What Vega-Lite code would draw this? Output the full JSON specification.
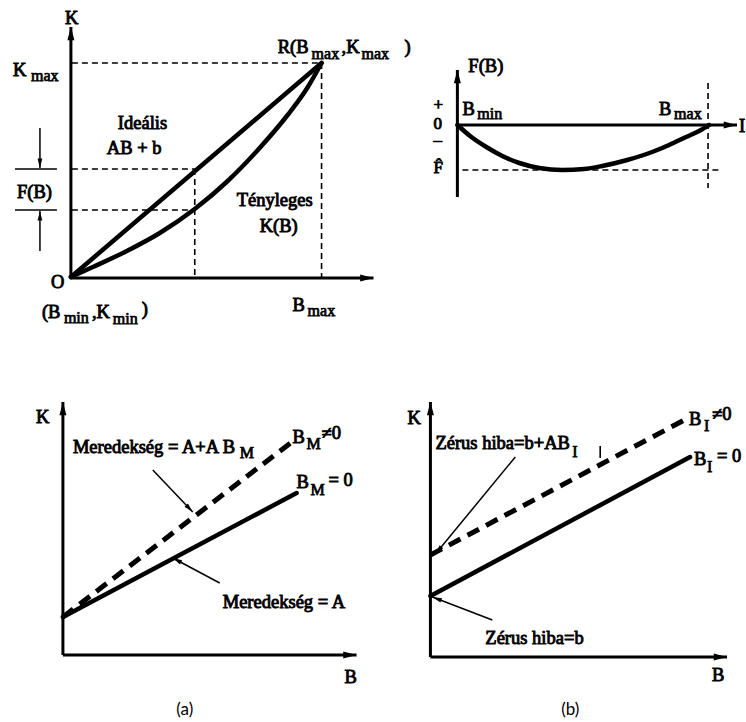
{
  "$schema": "https://vega.github.io/schema/vega-lite/v6.json",
  "width": 746,
  "height": 722,
  "autosize": {"type": "fit", "contains": "padding"},
  "padding": 0,
  "background": "white",
  "config": {"view": {"stroke": null}},
  "datasets": {
    "axes": [
      {"x1": 71, "y1": 278, "x2": 71, "y2": 27},
      {"x1": 71, "y1": 278, "x2": 374, "y2": 278},
      {"x1": 458, "y1": 197, "x2": 458, "y2": 70},
      {"x1": 458, "y1": 125, "x2": 738, "y2": 125},
      {"x1": 63, "y1": 655, "x2": 63, "y2": 402},
      {"x1": 63, "y1": 655, "x2": 357, "y2": 655},
      {"x1": 431, "y1": 657, "x2": 431, "y2": 402},
      {"x1": 431, "y1": 657, "x2": 728, "y2": 657}
    ],
    "pointers": [
      {"x1": 40, "y1": 128, "x2": 40, "y2": 168},
      {"x1": 40, "y1": 251, "x2": 40, "y2": 211},
      {"x1": 153, "y1": 470, "x2": 193, "y2": 512},
      {"x1": 220, "y1": 583, "x2": 173, "y2": 558},
      {"x1": 516, "y1": 457, "x2": 436, "y2": 554},
      {"x1": 493, "y1": 620, "x2": 433, "y2": 597}
    ],
    "ticks": [
      {"x1": 15, "y1": 169, "x2": 57, "y2": 169},
      {"x1": 15, "y1": 210, "x2": 57, "y2": 210},
      {"x1": 601, "y1": 446, "x2": 601, "y2": 458}
    ],
    "guides": [
      {"x1": 72, "y1": 63, "x2": 322, "y2": 63},
      {"x1": 322, "y1": 63, "x2": 322, "y2": 278},
      {"x1": 72, "y1": 169, "x2": 195, "y2": 169},
      {"x1": 72, "y1": 210, "x2": 195, "y2": 210},
      {"x1": 195, "y1": 169, "x2": 195, "y2": 278},
      {"x1": 463, "y1": 170, "x2": 722, "y2": 170},
      {"x1": 709, "y1": 83, "x2": 709, "y2": 188}
    ],
    "straight": [
      {"x1": 71, "y1": 277, "x2": 322, "y2": 63},
      {"x1": 63, "y1": 617, "x2": 297, "y2": 493},
      {"x1": 431, "y1": 596, "x2": 691, "y2": 457}
    ],
    "biased": [
      {"x1": 63, "y1": 617, "x2": 291, "y2": 443},
      {"x1": 431, "y1": 555, "x2": 689, "y2": 418}
    ],
    "curves": [
      {"id": "K", "i": 1, "x": 71, "y": 277},
      {"id": "K", "i": 2, "x": 93, "y": 267},
      {"id": "K", "i": 3, "x": 127, "y": 251},
      {"id": "K", "i": 4, "x": 160, "y": 233},
      {"id": "K", "i": 5, "x": 195, "y": 209},
      {"id": "K", "i": 6, "x": 228, "y": 181},
      {"id": "K", "i": 7, "x": 260, "y": 148},
      {"id": "K", "i": 8, "x": 288, "y": 115},
      {"id": "K", "i": 9, "x": 307, "y": 89},
      {"id": "K", "i": 10, "x": 322, "y": 63},
      {"id": "F", "i": 1, "x": 458, "y": 125},
      {"id": "F", "i": 2, "x": 472, "y": 137},
      {"id": "F", "i": 3, "x": 487, "y": 147},
      {"id": "F", "i": 4, "x": 503, "y": 156},
      {"id": "F", "i": 5, "x": 520, "y": 163},
      {"id": "F", "i": 6, "x": 540, "y": 168},
      {"id": "F", "i": 7, "x": 563, "y": 170},
      {"id": "F", "i": 8, "x": 585, "y": 169},
      {"id": "F", "i": 9, "x": 603, "y": 166},
      {"id": "F", "i": 10, "x": 628, "y": 160},
      {"id": "F", "i": 11, "x": 653, "y": 152},
      {"id": "F", "i": 12, "x": 670, "y": 145},
      {"id": "F", "i": 13, "x": 687, "y": 137},
      {"id": "F", "i": 14, "x": 700, "y": 131},
      {"id": "F", "i": 15, "x": 710, "y": 125}
    ],
    "labels": [
      {"x": 65, "y": 18, "t": "K"},
      {"x": 13, "y": 70, "t": "K"},
      {"x": 278, "y": 47, "t": "R(B"},
      {"x": 342, "y": 47, "t": ",K"},
      {"x": 405, "y": 47, "t": ")"},
      {"x": 118, "y": 123, "t": "Ideális"},
      {"x": 107, "y": 148, "t": "AB + b"},
      {"x": 17, "y": 192, "t": "F(B)"},
      {"x": 237, "y": 200, "t": "Tényleges"},
      {"x": 260, "y": 226, "t": "K(B)"},
      {"x": 51, "y": 282, "t": "O"},
      {"x": 42, "y": 312, "t": "(B"},
      {"x": 92, "y": 312, "t": ",K"},
      {"x": 142, "y": 309, "t": ")"},
      {"x": 293, "y": 305, "t": "B"},
      {"x": 469, "y": 66, "t": "F(B)"},
      {"x": 463, "y": 109, "t": "B"},
      {"x": 660, "y": 109, "t": "B"},
      {"x": 740, "y": 126, "t": "I"},
      {"x": 36, "y": 417, "t": "K"},
      {"x": 73, "y": 447, "t": "Meredekség = A+A B"},
      {"x": 293, "y": 437, "t": "B"},
      {"x": 322, "y": 433, "t": "≠0"},
      {"x": 297, "y": 482, "t": "B"},
      {"x": 329, "y": 480, "t": "= 0"},
      {"x": 223, "y": 602, "t": "Meredekség = A"},
      {"x": 345, "y": 677, "t": "B"},
      {"x": 408, "y": 418, "t": "K"},
      {"x": 690, "y": 419, "t": "B"},
      {"x": 713, "y": 414, "t": "≠0"},
      {"x": 695, "y": 459, "t": "B"},
      {"x": 718, "y": 456, "t": "= 0"},
      {"x": 436, "y": 443, "t": "Zérus hiba=b+AB"},
      {"x": 486, "y": 638, "t": "Zérus hiba=b"},
      {"x": 713, "y": 675, "t": "B"}
    ],
    "signs": [
      {"x": 434, "y": 105, "t": "+"},
      {"x": 434, "y": 124, "t": "0"},
      {"x": 434, "y": 140, "t": "–"},
      {"x": 434, "y": 168, "t": "F̂"}
    ],
    "subs": [
      {"x": 31, "y": 76, "t": "max"},
      {"x": 312, "y": 54, "t": "max"},
      {"x": 362, "y": 54, "t": "max"},
      {"x": 64, "y": 318, "t": "min"},
      {"x": 113, "y": 319, "t": "min"},
      {"x": 308, "y": 311, "t": "max"},
      {"x": 478, "y": 114, "t": "min"},
      {"x": 675, "y": 114, "t": "max"},
      {"x": 240, "y": 453, "t": "M"},
      {"x": 307, "y": 444, "t": "M"},
      {"x": 311, "y": 490, "t": "M"},
      {"x": 705, "y": 426, "t": "I"},
      {"x": 708, "y": 467, "t": "I"},
      {"x": 573, "y": 452, "t": "I"}
    ],
    "captions": [
      {"x": 185, "y": 710, "t": "(a)"},
      {"x": 571, "y": 710, "t": "(b)"}
    ]
  },
  "encoding": {
    "x": {"field": "x1", "type": "quantitative", "scale": {"domain": [0, 746], "nice": false, "zero": false}, "axis": null},
    "y": {"field": "y1", "type": "quantitative", "scale": {"domain": [0, 722], "nice": false, "zero": false, "reverse": true}, "axis": null}
  },
  "layer": [
    {
      "data": {"name": "guides"},
      "mark": {"type": "rule", "color": "black", "strokeWidth": 1.6, "strokeDash": [6, 4]},
      "encoding": {"x2": {"field": "x2"}, "y2": {"field": "y2"}}
    },
    {
      "data": {"name": "ticks"},
      "mark": {"type": "rule", "color": "black", "strokeWidth": 1.6},
      "encoding": {"x2": {"field": "x2"}, "y2": {"field": "y2"}}
    },
    {
      "data": {"name": "pointers"},
      "mark": {"type": "rule", "color": "black", "strokeWidth": 1.5},
      "encoding": {"x2": {"field": "x2"}, "y2": {"field": "y2"}}
    },
    {
      "data": {"name": "pointers"},
      "transform": [{"calculate": "atan2(datum.x2 - datum.x1, datum.y1 - datum.y2) * 180 / PI", "as": "ang"}],
      "mark": {"type": "point", "filled": true, "color": "black", "opacity": 1, "shape": "M0,0L0.45,1.8L-0.45,1.8Z", "size": 110},
      "encoding": {
        "x": {"field": "x2", "type": "quantitative"},
        "y": {"field": "y2", "type": "quantitative"},
        "angle": {"field": "ang", "type": "quantitative", "scale": null}
      }
    },
    {
      "data": {"name": "axes"},
      "mark": {"type": "rule", "color": "black", "strokeWidth": 3},
      "encoding": {"x2": {"field": "x2"}, "y2": {"field": "y2"}}
    },
    {
      "data": {"name": "axes"},
      "transform": [{"calculate": "atan2(datum.x2 - datum.x1, datum.y1 - datum.y2) * 180 / PI", "as": "ang"}],
      "mark": {"type": "point", "filled": true, "color": "black", "opacity": 1, "shape": "M0,0L0.5,1.9L-0.5,1.9Z", "size": 196},
      "encoding": {
        "x": {"field": "x2", "type": "quantitative"},
        "y": {"field": "y2", "type": "quantitative"},
        "angle": {"field": "ang", "type": "quantitative", "scale": null}
      }
    },
    {
      "data": {"name": "straight"},
      "mark": {"type": "rule", "color": "black", "strokeWidth": 4.5, "strokeCap": "round"},
      "encoding": {"x2": {"field": "x2"}, "y2": {"field": "y2"}}
    },
    {
      "data": {"name": "biased"},
      "mark": {"type": "rule", "color": "black", "strokeWidth": 5, "strokeDash": [13, 8]},
      "encoding": {"x2": {"field": "x2"}, "y2": {"field": "y2"}}
    },
    {
      "data": {"name": "curves"},
      "mark": {"type": "line", "color": "black", "strokeWidth": 4.5, "interpolate": "monotone", "strokeCap": "round"},
      "encoding": {
        "x": {"field": "x", "type": "quantitative"},
        "y": {"field": "y", "type": "quantitative"},
        "detail": {"field": "id"},
        "order": {"field": "i", "type": "quantitative"}
      }
    },
    {
      "data": {"name": "labels"},
      "mark": {"type": "text", "align": "left", "baseline": "middle", "font": "Liberation Serif", "fontSize": 18.5, "fill": "black", "stroke": "black", "strokeWidth": 0.9},
      "encoding": {
        "x": {"field": "x", "type": "quantitative"},
        "y": {"field": "y", "type": "quantitative"},
        "text": {"field": "t"}
      }
    },
    {
      "data": {"name": "signs"},
      "mark": {"type": "text", "align": "left", "baseline": "middle", "font": "Liberation Serif", "fontSize": 17, "fill": "black", "stroke": "black", "strokeWidth": 0.9},
      "encoding": {
        "x": {"field": "x", "type": "quantitative"},
        "y": {"field": "y", "type": "quantitative"},
        "text": {"field": "t"}
      }
    },
    {
      "data": {"name": "subs"},
      "mark": {"type": "text", "align": "left", "baseline": "middle", "font": "Liberation Serif", "fontSize": 16, "fill": "black", "stroke": "black", "strokeWidth": 0.75},
      "encoding": {
        "x": {"field": "x", "type": "quantitative"},
        "y": {"field": "y", "type": "quantitative"},
        "text": {"field": "t"}
      }
    },
    {
      "data": {"name": "captions"},
      "mark": {"type": "text", "align": "center", "baseline": "middle", "font": "Lato", "fontSize": 17, "color": "black"},
      "encoding": {
        "x": {"field": "x", "type": "quantitative"},
        "y": {"field": "y", "type": "quantitative"},
        "text": {"field": "t"}
      }
    }
  ]
}
